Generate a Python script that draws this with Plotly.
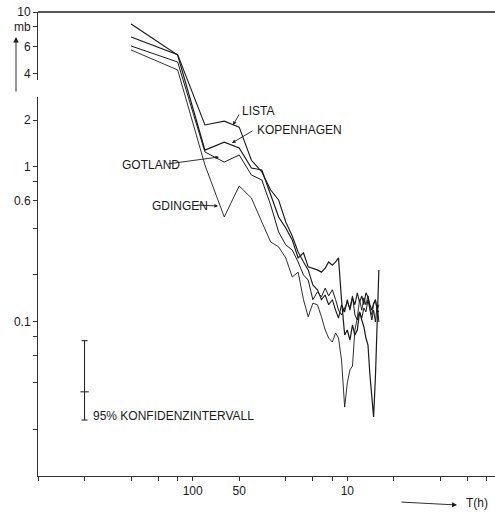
import plotly.graph_objects as go

# Period T (h) of the spectral estimates
period_h = [250, 125, 83.3, 62.5, 50, 41.7, 35.7, 31.3, 27.8, 25, 22.7, 20.8, 19.2, 17.9,
            16.7, 15.6, 14.7, 13.9, 13.2, 12.5, 11.9, 11.4, 10.9, 10.4, 10, 9.62, 9.26,
            8.93, 8.62, 8.33, 8.06, 7.81, 7.58, 7.35, 7.14, 6.94, 6.76, 6.58, 6.41, 6.25]

# spectral values (mb)
lista = [6.9, 5.3, 1.86, 1.97, 1.80, 1.10, 0.924, 0.706, 0.609, 0.439, 0.356, 0.281, 0.242,
         0.215, 0.172, 0.160, 0.138, 0.148, 0.128, 0.138, 0.118, 0.105, 0.128, 0.115, 0.138,
         0.118, 0.142, 0.128, 0.153, 0.133, 0.146, 0.128, 0.153, 0.144, 0.128, 0.118, 0.131,
         0.138, 0.118, 0.115]
kopenhagen = [8.36, 5.27, 1.28, 1.44, 1.32, 0.98, 0.952, 0.656, 0.473, 0.401, 0.336, 0.257,
              0.277, 0.225, 0.221, 0.215, 0.208, 0.221, 0.242, 0.231, 0.242, 0.257, 0.138,
              0.0816, 0.0879, 0.0757, 0.0947, 0.0816, 0.0879, 0.115, 0.102, 0.0919, 0.078,
              0.0703, 0.045, 0.031, 0.0241, 0.0437, 0.0879, 0.215]
gotland = [6.03, 4.75, 1.245, 1.07, 1.19, 0.883, 0.82, 0.565, 0.378, 0.312, 0.289, 0.242,
           0.1995, 0.185, 0.138, 0.155, 0.144, 0.164, 0.146, 0.160, 0.138, 0.118, 0.110,
           0.122, 0.133, 0.122, 0.146, 0.110, 0.102, 0.115, 0.105, 0.122, 0.115, 0.138,
           0.115, 0.102, 0.118, 0.099, 0.128, 0.099]
gdingen = [5.68, 4.22, 1.025, 0.473, 0.75, 0.627, 0.439, 0.326, 0.303, 0.257, 0.1935, 0.208,
           0.138, 0.107, 0.131, 0.128, 0.107, 0.0879, 0.078, 0.0735, 0.0841, 0.078, 0.0562,
           0.0279, 0.040, 0.0485, 0.0514, 0.0879, 0.105, 0.138, 0.118, 0.142, 0.128, 0.146,
           0.122, 0.110, 0.128, 0.138, 0.118, 0.128]

# 95% confidence interval bar
ci_T = [500]
ci_mid = [0.035]
ci_hi = [0.075]
ci_lo = [0.023]

# axis ticks
x_tickvals = [1000, 500, 250, 166.7, 125, 100, 50, 25, 16.67, 12.5, 10, 5, 2.5, 1.667, 1.25]
x_ticktext = ["", "", "", "", "", "100", "50", "", "", "", "10", "", "", "", ""]
y_tickvals = [0.02, 0.04, 0.06, 0.08, 0.1, 0.2, 0.4, 0.6, 0.8, 1, 2, 4, 6, 8, 10]
y_ticktext = ["", "", "", "", "0.1", "", "", "0.6", "", "1", "2", "4", "6", "mb", "10"]

W, H = 495, 512
L, R, T, B = 38, 0, 12, 36
PW, PH = W - L - R, H - T - B


def px(x):
    return (x - L) / PW


def py(y):
    return (H - B - y) / PH


FONT = "Liberation Sans"
INK = "#1a1a1a"

fig = go.Figure()
widths = [1.1, 1.2, 1.0, 0.9]
for name, vals, w in zip(["LISTA", "KOPENHAGEN", "GOTLAND", "GDINGEN"],
                         [lista, kopenhagen, gotland, gdingen], widths):
    fig.add_trace(go.Scatter(x=period_h, y=vals, mode="lines", name=name,
                             line=dict(color=INK, width=w), hoverinfo="skip"))

fig.add_trace(go.Scatter(
    x=ci_T, y=ci_mid, mode="markers",
    marker=dict(symbol="line-ew", size=6, line=dict(width=1, color=INK)),
    error_y=dict(type="data", symmetric=False,
                 array=[ci_hi[0] - ci_mid[0]], arrayminus=[ci_mid[0] - ci_lo[0]],
                 thickness=1, width=3, color=INK),
    hoverinfo="skip"))

fig.update_xaxes(type="log", range=[3, 0.045], showline=True, linecolor="#333",
                 linewidth=1, ticks="outside", ticklen=4, tickcolor="#333",
                 tickvals=x_tickvals, ticktext=x_ticktext, showgrid=False,
                 zeroline=False, tickfont=dict(family=FONT, size=12, color=INK))
fig.update_yaxes(type="log", range=[-2, 1], showline=True, linecolor="#333",
                 linewidth=1, ticks="outside", ticklen=4, tickcolor="#333",
                 tickvals=y_tickvals, ticktext=y_ticktext, showgrid=False,
                 zeroline=False, tickfont=dict(family=FONT, size=12, color=INK))

anns = []


def text(t, x, y, size=12):
    anns.append(dict(text=t, x=px(x), y=py(y), xref="paper", yref="paper",
                     showarrow=False, xanchor="left", yanchor="middle",
                     font=dict(family=FONT, size=size, color=INK)))


def arrow(hx, hy, tx, ty, head=2, size=0.8, width=0.9):
    anns.append(dict(text="", x=px(hx), y=py(hy), xref="paper", yref="paper",
                     ax=tx - hx, ay=ty - hy, showarrow=True, arrowhead=head,
                     arrowsize=size, arrowwidth=width, arrowcolor=INK))


text("LISTA", 240, 111)
arrow(233, 125, 240, 113)
text("KOPENHAGEN", 255, 130)
arrow(232, 143, 254, 130)
text("GOTLAND", 120, 165)
arrow(219, 157, 167, 164)
text("GDINGEN", 150, 206)
arrow(218, 206, 196, 205)
text("95% KONFIDENZINTERVALL", 91, 416)
text("T(h)", 464, 503)
arrow(457, 505, 400, 502, size=1.1)
arrow(16, 37, 16, 93, size=1.2)

fig.update_layout(
    width=W, height=H, margin=dict(l=L, r=R, t=T, b=B),
    paper_bgcolor="white", plot_bgcolor="white", showlegend=False,
    annotations=anns,
    shapes=[
        dict(type="line", xref="paper", yref="paper", x0=0, x1=1, y0=1, y1=1,
             line=dict(color="#555", width=2)),
        # small break in the vertical axis line, as in the original drawing
        dict(type="rect", xref="paper", yref="paper", x0=px(36), x1=px(40),
             y0=py(97), y1=py(80), fillcolor="white", line=dict(width=0),
             layer="above"),
    ],
)

fig.write_html("out.html", config={"displayModeBar": False},
               post_script="document.body.style.margin='0px';document.body.style.overflow='hidden';")
